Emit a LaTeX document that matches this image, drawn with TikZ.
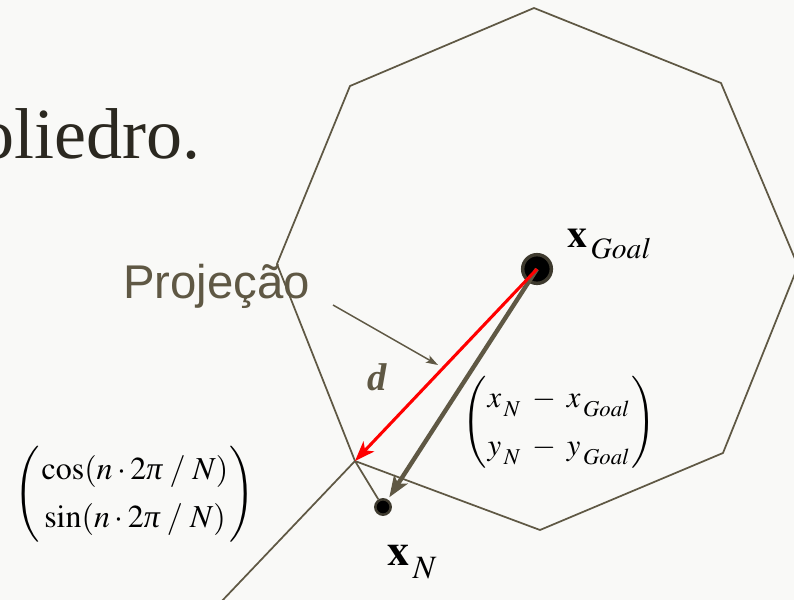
\documentclass[tikz,border=0pt]{standalone}
\usepackage{mathptmx}
\usepackage{fontspec}
\setmainfont{Liberation Serif}
\setsansfont{Liberation Sans}
\usetikzlibrary{arrows.meta}
\definecolor{linecol}{RGB}{95,88,68}
\definecolor{ringcol}{RGB}{62,58,46}
\definecolor{darktext}{RGB}{43,40,32}
\definecolor{bgcol}{RGB}{249,249,247}
\newcommand{\lowsub}[2]{_{\raisebox{-#1}{$\scriptstyle\,#2$}}}
\newcommand{\itpi}{\mbox{\itshape π}}
\tikzset{
  edge/.style={draw=linecol, line width=1.3pt, line join=miter},
  dotgoal/.style={circle, fill=black, draw=ringcol, line width=2.6pt, minimum size=21.5pt, inner sep=0pt},
  dotn/.style={circle, fill=black, draw=ringcol, line width=1.9pt, minimum size=11.5pt, inner sep=0pt},
  grayarrow/.style={draw=linecol, line width=3.3pt, -{Stealth[length=16pt,width=12pt,inset=4pt]}},
  redarrow/.style={draw=red, line width=2.3pt, -{Stealth[length=15pt,width=11pt,inset=4pt]}},
  thinarrow/.style={draw=linecol, line width=1.1pt, -{Stealth[length=9pt,width=6pt,inset=2pt]}},
  lab/.style={anchor=base west, inner sep=0pt}
}
\begin{document}
\begin{tikzpicture}[x=0.75pt,y=-0.75pt]
\fill[bgcol] (0,0) rectangle (794,600);
\useasboundingbox (0,0) rectangle (794,600);
\clip (0,0) rectangle (794,600);
% octagon
\coordinate (vT) at (534,8);
\coordinate (vUR) at (721,83);
\coordinate (vR) at (798,266);
\coordinate (vLR) at (723,453);
\coordinate (vB) at (540,530);
\coordinate (vLL) at (355,461);
\coordinate (vL) at (277,264);
\coordinate (vUL) at (350,86);
\draw[edge] (vT) -- (vUR) -- (vR) -- (vLR) -- (vB) -- (vLL) -- (vL) -- (vUL) -- cycle;
% texts
\node[lab, font=\fontsize{54pt}{54pt}\selectfont, text=darktext] (title) at (-22,158) {oliedro.};
\node[lab, font=\sffamily\fontsize{35.5pt}{36pt}\selectfont, text=linecol] (proj) at (123,298) {Projeção};
\node[lab, font=\bfseries\itshape\fontsize{29pt}{29pt}\selectfont, text=linecol] (dlab) at (367,390) {d};
% dots
\node[dotgoal] (goal) at (537,269) {};
\node[dotn] (xn) at (383,507) {};
% lines
\coordinate (rayend) at (220,603);
\draw[edge] (vLL) -- (rayend);
\draw[edge] (vLL) -- (xn);
\coordinate (pa) at (333,305);
\coordinate (pb) at (438,365);
\draw[thinarrow] (pa) -- (pb);
\draw[grayarrow, shorten >=2pt] (goal.center) -- (xn);
\draw[redarrow] (goal.center) -- (vLL);
% labels
\node[lab, font=\fontsize{30pt}{30pt}\selectfont] (goallab) at (567,247) {$\mathbf{x}\lowsub{4pt}{Goal}$};
\node[lab, font=\fontsize{33pt}{33pt}\selectfont] (xnlab) at (387,565) {$\mathbf{x}\lowsub{5pt}{N}$};
\node[inner sep=0pt, font=\fontsize{24pt}{28pt}\selectfont] (m1) at (135,494)
  {$\setlength{\arraycolsep}{1pt}\renewcommand{\arraystretch}{1.27}\left(\begin{array}{c}\cos(n\cdot 2\itpi\;/\;N)\\ \sin(n\cdot 2\itpi\;/\;N)\end{array}\right)$};
\node[inner sep=0pt, font=\fontsize{23pt}{26pt}\selectfont] (m2) at (559,422)
  {$\setlength{\arraycolsep}{1pt}\renewcommand{\arraystretch}{1.4}\left(\begin{array}{l} x\lowsub{3pt}{N}\;-\;x\lowsub{3pt}{Goal}\\ y\lowsub{3pt}{N}\;-\;y\lowsub{3pt}{Goal}\end{array}\right)$};
\end{tikzpicture}
\end{document}
